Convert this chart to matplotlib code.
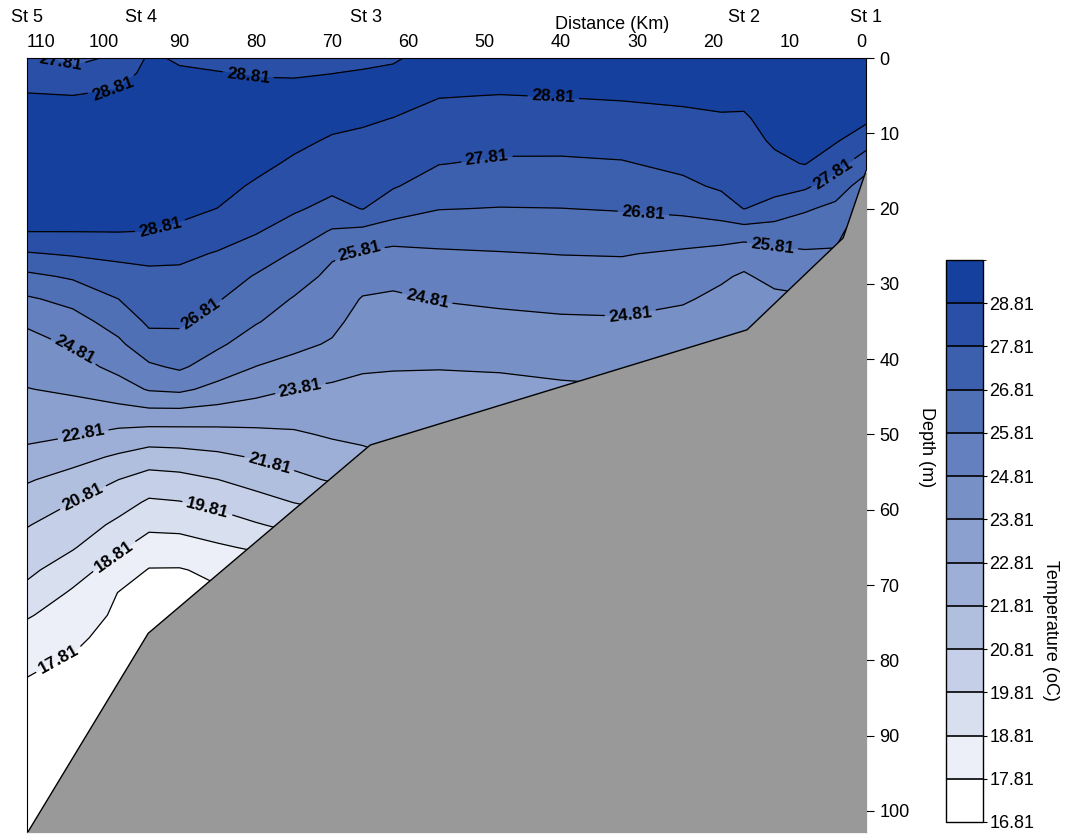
import numpy as np
import matplotlib.pyplot as plt
from matplotlib.colors import ListedColormap, BoundaryNorm

plt.rcParams['font.family'] = ['Liberation Sans', 'DejaVu Sans']

# section grid: distance (km) x depth (m)
distance_km = [110, 104, 98, 94, 90, 85, 80, 75, 70, 66, 62, 56, 48, 40, 32, 24, 19, 16, 12, 8, 4, 0]
depth_m = [0, 2, 5, 8, 11, 14, 17, 20, 23, 26, 29, 32, 35, 38, 41, 44, 47, 50, 53, 56,
           59, 62, 65, 68, 71, 74, 77, 80, 85, 90, 96, 103]

# temperature profiles (oC), one per distance column
t_110 = [28.00, 28.38, 28.87, 29.13, 29.30, 29.30, 29.30, 29.06, 28.83, 27.73, 26.59, 25.69, 24.94, 24.51, 24.15, 23.78,
         23.40, 23.03, 22.53, 21.90, 21.37, 20.86, 20.45, 20.04, 19.53, 18.90, 18.41, 17.95, 17.64, 17.44, 17.19, 16.90]
t_104 = [27.60, 28.00, 28.82, 29.11, 29.30, 29.30, 29.30, 29.07, 28.83, 27.91, 26.94, 26.09, 25.45, 24.90, 24.43, 23.96,
         23.43, 22.87, 22.14, 21.45, 20.81, 20.35, 19.89, 19.25, 18.69, 18.34, 17.99, 17.74, 17.49, 17.25, 17.05, 16.90]
t_98 = [27.95, 28.47, 28.96, 29.21, 29.30, 29.30, 29.30, 29.07, 28.84, 28.05, 27.39, 26.81, 26.21, 25.63, 25.08, 24.38,
        23.49, 22.55, 21.67, 20.81, 20.21, 19.60, 18.98, 18.34, 17.79, 17.64, 17.49, 17.34, 17.17, 17.10, 17.00, 16.90]
t_94 = [28.95, 29.04, 29.17, 29.30, 29.30, 29.30, 29.30, 29.06, 28.80, 28.06, 27.60, 27.28, 26.97, 26.43, 25.66, 24.89,
        23.59, 22.40, 21.33, 20.41, 19.68, 19.04, 18.34, 17.76, 17.60, 17.43, 17.28, 17.20, 17.10, 17.00, 16.95, 16.90]
t_90 = [28.70, 28.92, 29.21, 29.30, 29.30, 29.30, 29.30, 29.02, 28.66, 28.02, 27.59, 27.27, 26.95, 26.50, 25.96, 25.00,
        23.59, 22.41, 21.41, 20.51, 19.77, 19.10, 18.36, 17.75, 17.54, 17.35, 17.25, 17.20, 17.10, 17.00, 16.95, 16.90]
t_85 = [28.55, 28.85, 29.19, 29.30, 29.30, 29.30, 29.06, 28.80, 28.26, 27.74, 27.31, 26.88, 26.43, 25.96, 25.33, 24.52,
        23.47, 22.48, 21.60, 20.80, 20.06, 19.36, 18.68, 18.01, 17.70, 17.50, 17.35, 17.25, 17.15, 17.05, 16.95, 16.90]
t_80 = [28.45, 28.75, 29.09, 29.30, 29.30, 29.02, 28.71, 28.30, 27.89, 27.32, 26.74, 26.31, 25.88, 25.36, 24.80, 24.11,
        23.35, 22.58, 21.88, 21.17, 20.45, 19.73, 18.94, 18.19, 17.70, 17.50, 17.35, 17.25, 17.15, 17.05, 16.95, 16.90]
t_75 = [28.45, 28.73, 29.09, 29.25, 28.99, 28.69, 28.31, 27.94, 27.37, 26.73, 26.23, 25.75, 25.39, 25.03, 24.52, 23.80,
        23.24, 22.69, 22.16, 21.57, 20.83, 20.07, 19.31, 18.56, 17.80, 17.55, 17.40, 17.30, 17.15, 17.05, 16.95, 16.90]
t_70 = [28.50, 28.80, 29.15, 29.04, 28.72, 28.37, 28.03, 27.52, 26.73, 25.94, 25.58, 25.31, 25.04, 24.72, 24.15, 23.66,
        23.29, 22.91, 22.42, 21.90, 21.10, 20.30, 19.60, 18.80, 18.00, 17.70, 17.50, 17.35, 17.20, 17.10, 17.00, 16.90]
t_66 = [28.60, 28.88, 29.10, 28.92, 28.65, 28.38, 28.11, 27.84, 26.58, 25.70, 25.20, 24.75, 24.47, 24.19, 23.90, 23.61,
        23.31, 23.01, 22.60, 21.80, 21.00, 20.30, 19.60, 18.80, 18.00, 17.70, 17.50, 17.35, 17.20, 17.10, 17.00, 16.90]
t_62 = [28.70, 28.98, 29.15, 28.80, 28.50, 28.20, 27.89, 27.25, 26.33, 25.55, 25.06, 24.67, 24.40, 24.13, 23.86, 23.60,
        23.34, 23.08, 22.80, 22.00, 21.20, 20.40, 19.70, 18.90, 18.10, 17.80, 17.55, 17.40, 17.20, 17.10, 17.00, 16.90]
t_56 = [29.20, 29.20, 28.85, 28.50, 28.17, 27.84, 27.35, 26.84, 26.24, 25.69, 25.27, 24.85, 24.51, 24.18, 23.85, 23.56,
        23.28, 23.00, 22.70, 22.00, 21.20, 20.40, 19.70, 18.90, 18.10, 17.80, 17.55, 17.40, 17.20, 17.10, 17.00, 16.90]
t_48 = [29.25, 29.20, 28.79, 28.43, 28.07, 27.69, 27.23, 26.78, 26.26, 25.76, 25.36, 24.97, 24.60, 24.25, 23.89, 23.59,
        23.30, 23.00, 22.70, 22.00, 21.20, 20.40, 19.70, 18.90, 18.10, 17.80, 17.55, 17.40, 17.20, 17.10, 17.00, 16.90]
t_40 = [29.25, 29.20, 28.84, 28.46, 28.08, 27.68, 27.24, 26.80, 26.32, 25.83, 25.44, 25.06, 24.69, 24.33, 23.97, 23.70,
        23.35, 23.00, 22.70, 22.00, 21.20, 20.40, 19.70, 18.90, 18.10, 17.80, 17.55, 17.40, 17.20, 17.10, 17.00, 16.90]
t_32 = [29.25, 29.20, 28.90, 28.51, 28.14, 27.75, 27.31, 26.87, 26.37, 25.86, 25.47, 25.09, 24.72, 24.38, 24.04, 23.75,
        23.40, 23.05, 22.70, 22.00, 21.20, 20.40, 19.70, 18.90, 18.10, 17.80, 17.55, 17.40, 17.20, 17.10, 17.00, 16.90]
t_24 = [29.30, 29.25, 28.96, 28.65, 28.34, 28.02, 27.62, 27.04, 26.32, 25.67, 25.28, 24.90, 24.56, 24.24, 23.92, 23.60,
        23.30, 23.00, 22.70, 22.00, 21.20, 20.40, 19.70, 18.90, 18.10, 17.80, 17.55, 17.40, 17.20, 17.10, 17.00, 16.90]
t_19 = [29.30, 29.25, 29.00, 28.74, 28.47, 28.21, 27.94, 27.36, 26.33, 25.49, 24.92, 24.62, 24.39, 24.15, 23.90, 23.60,
        23.30, 23.00, 22.70, 22.00, 21.20, 20.40, 19.70, 18.90, 18.10, 17.80, 17.55, 17.40, 17.20, 17.10, 17.00, 16.90]
t_16 = [29.30, 29.25, 28.99, 28.73, 28.51, 28.28, 28.06, 27.83, 26.38, 25.18, 24.71, 24.54, 24.37, 24.20, 23.95, 23.65,
        23.35, 23.05, 22.75, 22.00, 21.20, 20.40, 19.70, 18.90, 18.10, 17.80, 17.55, 17.40, 17.20, 17.10, 17.00, 16.90]
t_12 = [29.30, 29.30, 29.25, 29.08, 28.92, 28.63, 28.15, 27.45, 26.33, 25.56, 25.06, 24.61, 24.21, 23.80, 23.50, 23.20,
        22.90, 22.60, 22.30, 22.00, 21.20, 20.40, 19.70, 18.90, 18.10, 17.80, 17.55, 17.40, 17.20, 17.10, 17.00, 16.90]
t_8 = [29.30, 29.30, 29.30, 29.30, 29.07, 28.85, 27.98, 26.92, 26.28, 25.70, 25.17, 24.70, 24.30, 23.90, 23.50, 23.20,
       22.90, 22.60, 22.30, 22.00, 21.20, 20.40, 19.70, 18.90, 18.10, 17.80, 17.55, 17.40, 17.20, 17.10, 17.00, 16.90]
t_4 = [29.30, 29.30, 29.30, 29.14, 28.89, 28.20, 27.28, 26.59, 26.15, 25.69, 25.20, 24.70, 24.30, 23.90, 23.50, 23.20,
       22.90, 22.60, 22.30, 22.00, 21.20, 20.40, 19.70, 18.90, 18.10, 17.80, 17.55, 17.40, 17.20, 17.10, 17.00, 16.90]
t_0 = [29.30, 29.30, 29.30, 29.01, 28.25, 27.22, 26.38, 25.60, 25.00, 24.60, 24.30, 24.00, 23.70, 23.40, 23.20, 23.00,
       22.80, 22.60, 22.30, 22.00, 21.20, 20.40, 19.70, 18.90, 18.10, 17.80, 17.55, 17.40, 17.20, 17.10, 17.00, 16.90]

# sea bottom profile
bottom_km = [110, 94.1, 65, 15.6, 3, 0]
bottom_depth = [103, 76.4, 51.4, 36.1, 23.9, 15]

stations = ['St 5', 'St 4', 'St 3', 'St 2', 'St 1']
station_km = [110, 95, 65.5, 16, 0]

levels = np.round(np.arange(16.81, 29.82, 1.0), 2)

# where the contour labels sit (km, m)
label_pos = [(105.6, 0.6), (98.7, 4.0), (81, 2.3), (92.5, 22.6), (41, 5.3), (49.7, 13.3), (4.3, 15.3),
             (87.3, 33.9), (29.2, 20.6), (66.5, 25.4), (12.2, 24.5), (103.7, 38.6), (57.5, 31.8), (30.9, 34.0),
             (74.2, 43.6), (102.6, 50.2), (78.1, 53.4), (102.6, 58.5), (86.4, 60.0), (98.7, 66.0), (106, 79.5)]

temp = np.column_stack([t_110, t_104, t_98, t_94, t_90, t_85, t_80, t_75, t_70, t_66, t_62, t_56,
                        t_48, t_40, t_32, t_24, t_19, t_16, t_12, t_8, t_4, t_0])
X, Y = np.meshgrid(distance_km, depth_m)

white = np.array([1.0, 1.0, 1.0])
dark = np.array([22, 64, 158]) / 255
cols = [white + (dark - white) * i / 12 for i in range(13)]
cmap = ListedColormap(cols)
norm = BoundaryNorm(levels, cmap.N)

fs = 13

fig = plt.figure(figsize=(10.71, 8.34), dpi=100)
ax = fig.add_axes([0.0252, 0.0024, 0.7834, 0.928])

cf = ax.contourf(X, Y, temp, levels=levels, cmap=cmap, norm=norm)
cs = ax.contour(X, Y, temp, levels=levels[1:-1], colors='black', linewidths=0.9)
labels = ax.clabel(cs, fmt='%.2f', manual=label_pos, fontsize=12.5, inline=True, inline_spacing=4)
for t in labels:
    t.set_fontweight('bold')

ax.fill_between(bottom_km, bottom_depth, 103, color='#999999', zorder=3)
ax.plot(bottom_km, bottom_depth, color='black', lw=1, zorder=4)

ax.set_xlim(110, 0)
ax.set_ylim(102.8, 0)
ax.xaxis.tick_top()
ax.set_xticks(range(110, -1, -10))
ax.tick_params(axis='x', length=0, pad=5, labelsize=fs)
xticks = ax.xaxis.get_major_ticks()
xticks[0].label2.set_horizontalalignment('left')
xticks[-1].label2.set_horizontalalignment('right')
ax.yaxis.tick_right()
ax.set_yticks(range(0, 101, 10))
ax.tick_params(axis='y', length=6, labelsize=fs)
ax.yaxis.set_label_position('right')
ax.set_ylabel('Depth (m)', rotation=270, fontsize=fs, va='center')
ax.yaxis.set_label_coords(1.072, 0.498)

for name, km in zip(stations, station_km):
    ax.text(km, 1.052, name, transform=ax.get_xaxis_transform(), ha='center', va='center', fontsize=fs)
ax.text(0.697, 1.043, 'Distance (Km)', transform=ax.transAxes, ha='center', va='center', fontsize=fs)

cax = fig.add_axes([0.883, 0.0144, 0.0345, 0.674])
cb = fig.colorbar(cf, cax=cax, ticks=levels[:-1], drawedges=True)
cb.ax.set_yticklabels(['%.2f' % v for v in levels[:-1]])
cb.ax.tick_params(length=3, labelsize=fs, pad=2)
cb.outline.set_linewidth(1)
cb.dividers.set_color('black')
cb.dividers.set_linewidth(1.2)
cb.set_label('Temperature (oC)', rotation=270, fontsize=fs, va='center')
cb.ax.yaxis.set_label_coords(2.85, 0.34)

fig.savefig('out.png', dpi=100)
